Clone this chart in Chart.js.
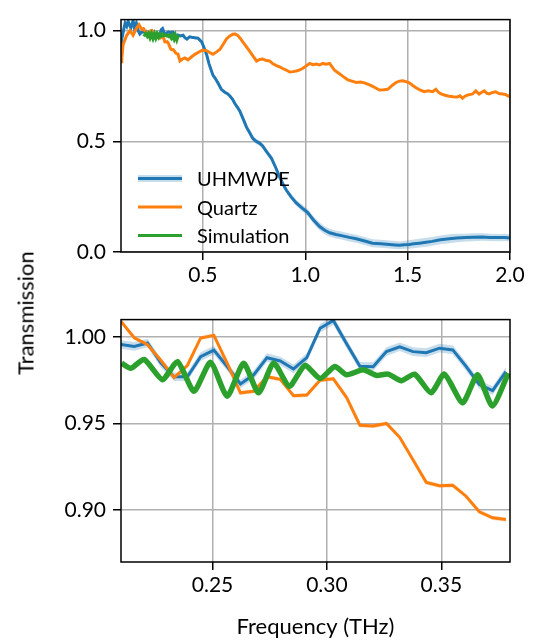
<!DOCTYPE html>
<html>
<head>
<meta charset="utf-8">
<script src="https://cdn.jsdelivr.net/npm/chart.js@4"></script>
<style>
  body { margin: 0; background: #fff; }
  #wrap { position: relative; width: 540px; height: 641px; }
  .box { position: absolute; left: 0; width: 540px; }
  #topBox { top: 0; height: 300px; }
  #bottomBox { top: 300px; height: 341px; }
  #ylabel {
    position: absolute; left: 25px; top: 313px;
    transform: translate(-50%, -50%) rotate(-90deg);
    font: 22px Lato; color: #000; white-space: nowrap;
  }
</style>
</head>
<body>
<div id="wrap">
  <div class="box" id="topBox"><canvas id="topChart"></canvas></div>
  <div class="box" id="bottomBox"><canvas id="bottomChart"></canvas></div>
  <div id="ylabel">Transmission</div>
</div>
<script>
// UHMWPE, wide sweep (points outside the 0.21-0.38 THz window)
const uhmwpeFreqWide = [0.100, 0.104, 0.112, 0.120, 0.128, 0.135, 0.142, 0.148, 0.154, 0.159, 0.166, 0.175, 0.184, 0.192, 0.200, 0.206,
  0.390, 0.403, 0.412, 0.422, 0.435, 0.445, 0.460, 0.476, 0.494, 0.505, 0.518, 0.530, 0.549, 0.560, 0.573, 0.590, 0.607, 0.620, 0.632,
  0.645, 0.656, 0.668, 0.680, 0.697, 0.713, 0.728, 0.744, 0.760, 0.776, 0.792, 0.810, 0.835, 0.855, 0.875, 0.892, 0.908, 0.930, 0.956,
  0.985, 1.011, 1.040, 1.070, 1.095, 1.119, 1.150, 1.182, 1.215, 1.249, 1.290, 1.328, 1.370, 1.411, 1.440, 1.460, 1.485, 1.508, 1.530,
  1.557, 1.590, 1.620, 1.660, 1.703, 1.740, 1.784, 1.820, 1.864, 1.900, 1.947, 1.975, 2.000];
const uhmwpeWide = [0.930, 0.963, 1.000, 1.034, 1.020, 1.043, 1.025, 1.013, 1.030, 1.047, 1.010, 1.034, 1.000, 0.985, 0.992, 0.996,
  0.976, 0.979, 0.968, 0.962, 0.972, 0.970, 0.968, 0.966, 0.949, 0.925, 0.893, 0.850, 0.799, 0.785, 0.765, 0.735, 0.722, 0.715, 0.705,
  0.690, 0.671, 0.655, 0.637, 0.600, 0.564, 0.540, 0.513, 0.500, 0.492, 0.479, 0.455, 0.423, 0.383, 0.338, 0.305, 0.279, 0.250, 0.222,
  0.198, 0.179, 0.145, 0.115, 0.098, 0.087, 0.079, 0.073, 0.066, 0.060, 0.050, 0.040, 0.037, 0.034, 0.032, 0.030, 0.033, 0.034, 0.037,
  0.040, 0.044, 0.048, 0.055, 0.060, 0.063, 0.065, 0.067, 0.068, 0.066, 0.065, 0.066, 0.063];
const uhmwpeErrWide = [0.004, 0.004, 0.004, 0.004, 0.004, 0.004, 0.004, 0.004, 0.004, 0.004, 0.004, 0.004, 0.004, 0.004, 0.004, 0.004,
  0.004, 0.004, 0.004, 0.004, 0.004, 0.004, 0.004, 0.004, 0.005, 0.006, 0.006, 0.006, 0.006, 0.006, 0.006, 0.006, 0.006, 0.007, 0.008,
  0.009, 0.010, 0.011, 0.012, 0.012, 0.012, 0.012, 0.012, 0.012, 0.012, 0.012, 0.012, 0.012, 0.012, 0.012, 0.012, 0.012, 0.013, 0.014,
  0.015, 0.016, 0.017, 0.018, 0.018, 0.018, 0.018, 0.018, 0.018, 0.018, 0.018, 0.018, 0.018, 0.018, 0.018, 0.018, 0.018, 0.019, 0.020,
  0.020, 0.020, 0.020, 0.020, 0.020, 0.019, 0.018, 0.018, 0.017, 0.016, 0.016, 0.016, 0.016];

// Quartz, wide sweep (points outside the 0.21-0.38 THz window)
const quartzFreqWide = [0.100, 0.104, 0.110, 0.128, 0.144, 0.159, 0.177, 0.188, 0.201,
  0.388, 0.400, 0.412, 0.427, 0.445, 0.461, 0.485, 0.500, 0.518, 0.535, 0.549, 0.565, 0.583, 0.600, 0.615, 0.630, 0.646, 0.658, 0.670,
  0.683, 0.695, 0.712, 0.729, 0.745, 0.762, 0.778, 0.792, 0.810, 0.826, 0.842, 0.859, 0.875, 0.890, 0.907, 0.924, 0.940, 0.956, 0.970,
  0.987, 1.003, 1.021, 1.038, 1.054, 1.070, 1.085, 1.102, 1.119, 1.130, 1.143, 1.160, 1.176, 1.192, 1.208, 1.228, 1.249, 1.270, 1.289,
  1.305, 1.322, 1.342, 1.362, 1.382, 1.403, 1.423, 1.443, 1.460, 1.476, 1.492, 1.508, 1.525, 1.541, 1.560, 1.581, 1.600, 1.622, 1.638,
  1.650, 1.663, 1.683, 1.703, 1.723, 1.743, 1.755, 1.768, 1.780, 1.792, 1.817, 1.833, 1.849, 1.862, 1.874, 1.886, 1.898, 1.915, 1.930,
  1.946, 1.963, 1.978, 1.992, 2.000];
const quartzWide = [0.860, 0.877, 0.936, 0.979, 1.000, 0.979, 1.013, 1.027, 1.006,
  0.863, 0.872, 0.877, 0.868, 0.882, 0.893, 0.906, 0.912, 0.910, 0.900, 0.893, 0.903, 0.915, 0.940, 0.963, 0.975, 0.984, 0.985, 0.979,
  0.965, 0.949, 0.928, 0.906, 0.885, 0.863, 0.870, 0.872, 0.865, 0.863, 0.850, 0.842, 0.836, 0.829, 0.822, 0.813, 0.815, 0.818, 0.822,
  0.829, 0.840, 0.852, 0.846, 0.849, 0.845, 0.852, 0.848, 0.852, 0.838, 0.821, 0.810, 0.799, 0.788, 0.778, 0.772, 0.766, 0.768, 0.764,
  0.758, 0.752, 0.742, 0.732, 0.733, 0.735, 0.752, 0.766, 0.772, 0.774, 0.770, 0.764, 0.752, 0.742, 0.732, 0.724, 0.728, 0.724, 0.735,
  0.722, 0.714, 0.708, 0.704, 0.701, 0.700, 0.706, 0.695, 0.704, 0.709, 0.714, 0.728, 0.714, 0.722, 0.728, 0.718, 0.714, 0.721, 0.724,
  0.716, 0.714, 0.712, 0.704, 0.706];

// Measured points inside the 0.21-0.38 THz window (shared frequency grid)
const zoomFreq = [0.2100, 0.2158, 0.2216, 0.2274, 0.2332, 0.2390, 0.2448, 0.2506, 0.2564, 0.2622, 0.2680, 0.2738, 0.2796, 0.2854,
  0.2912, 0.2970, 0.3028, 0.3086, 0.3144, 0.3202, 0.3260, 0.3318, 0.3376, 0.3434, 0.3492, 0.3550, 0.3608, 0.3666, 0.3724, 0.3782];
const uhmwpeZoom = [0.9956, 0.9945, 0.9965, 0.9850, 0.9770, 0.9770, 0.9886, 0.9924, 0.9829, 0.9728, 0.9781, 0.9880, 0.9861, 0.9815,
  0.9880, 1.0050, 1.0095, 0.9960, 0.9830, 0.9828, 0.9915, 0.9943, 0.9915, 0.9909, 0.9935, 0.9925, 0.9830, 0.9725, 0.9690, 0.9800];
const uhmwpeErrZoom = [0.0025, 0.0025, 0.0025, 0.0025, 0.0025, 0.0025, 0.0025, 0.0025, 0.0025, 0.0025, 0.0025, 0.0025, 0.0025, 0.0025,
  0.0025, 0.0025, 0.0025, 0.0025, 0.0025, 0.0025, 0.0025, 0.0025, 0.0025, 0.0025, 0.0025, 0.0025, 0.0025, 0.0025, 0.0025, 0.0025];
const quartzZoom = [1.0090, 0.9995, 0.9955, 0.9865, 0.9765, 0.9835, 0.9994, 1.0009, 0.9848, 0.9677, 0.9686, 0.9770, 0.9755, 0.9660,
  0.9664, 0.9750, 0.9758, 0.9650, 0.9490, 0.9485, 0.9500, 0.9420, 0.9290, 0.9160, 0.9140, 0.9143, 0.9080, 0.8990, 0.8955, 0.8945];
const quartzErrZoom = [0.0012, 0.0012, 0.0012, 0.0012, 0.0012, 0.0012, 0.0012, 0.0012, 0.0012, 0.0012, 0.0012, 0.0012, 0.0012, 0.0012,
  0.0012, 0.0012, 0.0012, 0.0012, 0.0012, 0.0012, 0.0012, 0.0012, 0.0012, 0.0012, 0.0012, 0.0012, 0.0012, 0.0012, 0.0012, 0.0012];

// Simulation
const simFreq = [0.2103, 0.2143, 0.2201, 0.2281, 0.2347, 0.2419, 0.2491, 0.2564, 0.2636, 0.2701, 0.2767, 0.2836, 0.2904, 0.2970,
  0.3035, 0.3086, 0.3158, 0.3216, 0.3267, 0.3325, 0.3383, 0.3455, 0.3513, 0.3593, 0.3658, 0.3723, 0.3793];
const simValues = [0.9848, 0.9819, 0.9870, 0.9753, 0.9857, 0.9686, 0.9853, 0.9658, 0.9848, 0.9677, 0.9848, 0.9715, 0.9836, 0.9760,
  0.9829, 0.9781, 0.9810, 0.9778, 0.9785, 0.9747, 0.9785, 0.9677, 0.9785, 0.9620, 0.9781, 0.9601, 0.9791];

// Axes
const xTicksTop = [0.5, 1.0, 1.5, 2.0];
const yTicksTop = [0.0, 0.5, 1.0];
const xTicksBottom = [0.25, 0.30, 0.35];
const yTicksBottom = [0.90, 0.95, 1.00];

const BLUE = '#1f77b4', ORANGE = '#ff7f0e', GREEN = '#2ca02c';
const BLUE_BAND = 'rgba(31,119,180,0.25)', ORANGE_BAND = 'rgba(255,127,14,0.25)';
const FONT = 'Lato';
const TICK_SIZE = 21, TITLE_SIZE = 22, LEGEND_SIZE = 20;

const pts = (xs, ys, off = null, sign = 0) =>
  xs.map((x, i) => ({ x, y: ys[i] + (off ? sign * off[i] : 0) }));
const byX = (a, b) => a.x - b.x;

// Full sweep = wide points + window points
const uhmwpeTop = pts(uhmwpeFreqWide, uhmwpeWide).concat(pts(zoomFreq, uhmwpeZoom)).sort(byX);
const uhmwpeTopHi = pts(uhmwpeFreqWide, uhmwpeWide, uhmwpeErrWide, 1).concat(pts(zoomFreq, uhmwpeZoom, uhmwpeErrZoom, 1)).sort(byX);
const uhmwpeTopLo = pts(uhmwpeFreqWide, uhmwpeWide, uhmwpeErrWide, -1).concat(pts(zoomFreq, uhmwpeZoom, uhmwpeErrZoom, -1)).sort(byX);
const quartzTop = pts(quartzFreqWide, quartzWide).concat(pts(zoomFreq, quartzZoom)).sort(byX);

// Box around the plot area
const framePlugin = {
  id: 'frame',
  afterDraw(chart) {
    const { ctx, chartArea: a } = chart;
    ctx.save();
    ctx.strokeStyle = '#000';
    ctx.lineWidth = 1.5;
    ctx.strokeRect(a.left, a.top, a.right - a.left, a.bottom - a.top);
    ctx.restore();
  }
};

// Legend drawn inside the plot area
const innerLegend = {
  id: 'innerLegend',
  afterDatasetsDraw(chart) {
    const { ctx, chartArea: a } = chart;
    const items = chart.data.datasets.filter(d => d.label).sort((p, q) => p.legendOrder - q.legendOrder);
    ctx.save();
    items.forEach((d, i) => {
      const y = a.top + 159 + i * 28.5;
      const x0 = a.left + 17, x1 = a.left + 61;
      if (d.bandColor) {
        ctx.strokeStyle = d.bandColor;
        ctx.lineWidth = 7;
        ctx.beginPath(); ctx.moveTo(x0, y); ctx.lineTo(x1, y); ctx.stroke();
      }
      ctx.strokeStyle = d.borderColor;
      ctx.lineWidth = 3;
      ctx.beginPath(); ctx.moveTo(x0, y); ctx.lineTo(x1, y); ctx.stroke();
      ctx.fillStyle = '#000';
      ctx.font = `${LEGEND_SIZE}px ${FONT}`;
      ctx.textBaseline = 'middle';
      ctx.fillText(d.label, a.left + 76, y + 1);
    });
    ctx.restore();
  }
};

const line = (data, color, width, extra = {}) => Object.assign({
  data, borderColor: color, borderWidth: width, pointRadius: 0, fill: false, tension: 0
}, extra);
const bound = (data) => ({ data, borderWidth: 0, borderColor: 'transparent', pointRadius: 0, fill: false });
const bandLow = (data, color) => ({ data, borderWidth: 0, borderColor: 'transparent', pointRadius: 0, fill: '-1', backgroundColor: color });

const axis = (min, max, ticks, digits, isX, fitSize, tickPad) => ({
  type: 'linear', min, max,
  afterBuildTicks: s => { s.ticks = ticks.map(v => ({ value: v })); },
  afterFit: s => { if (isX) s.height = fitSize; else s.width = fitSize; },
  grid: { color: '#b0b0b0', lineWidth: 1.5, tickColor: '#000', tickWidth: 1.5, tickLength: 8 },
  border: { display: false },
  ticks: { color: '#000', font: { family: FONT, size: TICK_SIZE }, padding: tickPad, maxRotation: 0,
    callback: v => Number(v).toFixed(digits) }
});

const common = {
  responsive: true, maintainAspectRatio: false, animation: false, events: [],
  plugins: { legend: { display: false }, tooltip: { enabled: false } }
};

new Chart(document.getElementById('topChart'), {
  type: 'line',
  data: {
    datasets: [
      line(pts(simFreq, simValues), GREEN, 3.5, { label: 'Simulation', legendOrder: 2 }),
      line(quartzTop, ORANGE, 3, { label: 'Quartz', legendOrder: 1 }),
      line(uhmwpeTop, BLUE, 3, { label: 'UHMWPE', legendOrder: 0, bandColor: BLUE_BAND }),
      bound(uhmwpeTopHi),
      bandLow(uhmwpeTopLo, BLUE_BAND)
    ]
  },
  options: Object.assign({}, common, {
    layout: { padding: { left: 0, right: 30, top: 6, bottom: 0 } },
    scales: {
      x: axis(0.1, 2.0, xTicksTop, 1, true, 48, 3),
      y: axis(0, 1.05, yTicksTop, 1, false, 121, 7)
    }
  }),
  plugins: [framePlugin, innerLegend]
});

const bottomX = axis(0.21, 0.38, xTicksBottom, 2, true, 79, 3);
bottomX.title = { display: true, text: 'Frequency (THz)', color: '#000', font: { family: FONT, size: TITLE_SIZE }, padding: { top: 0, bottom: 1 } };

new Chart(document.getElementById('bottomChart'), {
  type: 'line',
  data: {
    datasets: [
      line(pts(simFreq, simValues), GREEN, 5.5, { tension: 0.2 }),
      line(pts(zoomFreq, quartzZoom), ORANGE, 3),
      line(pts(zoomFreq, uhmwpeZoom), BLUE, 3),
      bound(pts(zoomFreq, uhmwpeZoom, uhmwpeErrZoom, 1)),
      bandLow(pts(zoomFreq, uhmwpeZoom, uhmwpeErrZoom, -1), BLUE_BAND),
      bound(pts(zoomFreq, quartzZoom, quartzErrZoom, 1)),
      bandLow(pts(zoomFreq, quartzZoom, quartzErrZoom, -1), ORANGE_BAND)
    ]
  },
  options: Object.assign({}, common, {
    layout: { padding: { left: 0, right: 30, top: 16, bottom: 0 } },
    scales: {
      x: bottomX,
      y: axis(0.87, 1.01, yTicksBottom, 2, false, 121, 7)
    }
  }),
  plugins: [framePlugin]
});
</script>
</body>
</html>
